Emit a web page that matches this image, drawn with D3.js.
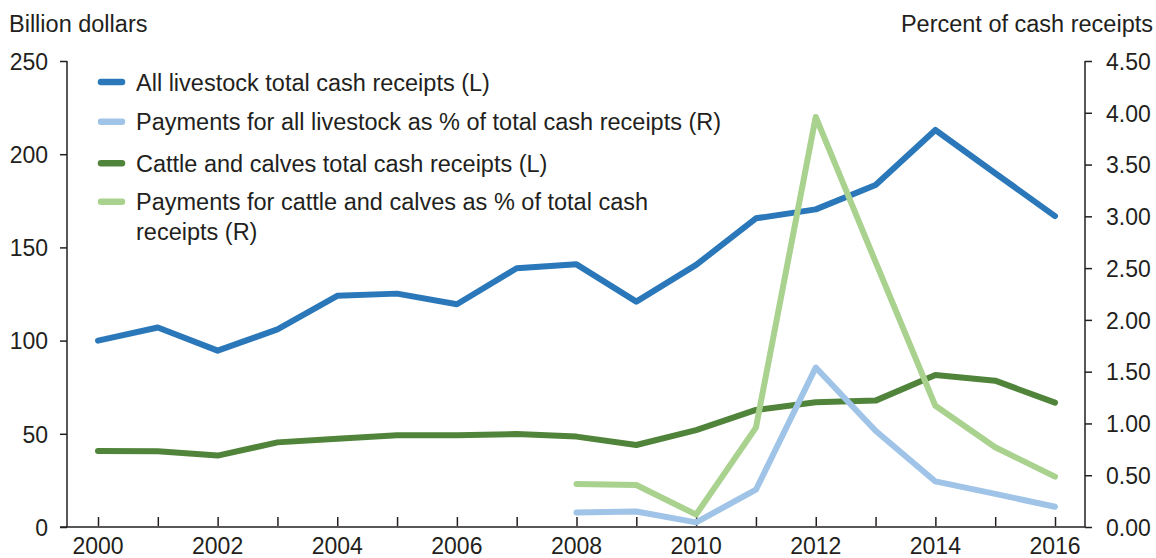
<!DOCTYPE html>
<html>
<head>
<meta charset="utf-8">
<script src="https://cdn.jsdelivr.net/npm/d3@7"></script>
<style>
  body { margin: 0; background: #fff; }
  svg text { font-family: "Liberation Sans", Arial, sans-serif; fill: #231f20; }
</style>
</head>
<body>
<div id="chart"></div>
<script>
const years = [2000, 2001, 2002, 2003, 2004, 2005, 2006, 2007, 2008, 2009, 2010, 2011, 2012, 2013, 2014, 2015, 2016];

// Billion dollars (left axis)
const allLivestock = [100, 107, 94.6, 106, 124, 125.2, 119.5, 138.8, 140.9, 120.9, 140.6, 165.6, 170.4, 183.5, 213, 189.8, 166.8];
const cattleCalves = [40.8, 40.6, 38.3, 45.4, 47.4, 49.2, 49.2, 49.9, 48.5, 44, 52, 62.8, 66.9, 67.8, 81.5, 78.5, 66.7];

// Percent of cash receipts (right axis)
const allLivestockPay = [null, null, null, null, null, null, null, null, 0.14, 0.15, 0.045, 0.36, 1.54, 0.93, 0.44, 0.32, 0.196];
const cattlePay = [null, null, null, null, null, null, null, null, 0.415, 0.405, 0.12, 0.96, 3.96, 2.56, 1.17, 0.77, 0.486];

const leftTicks = [0, 50, 100, 150, 200, 250];
const rightTicks = [0, 0.5, 1, 1.5, 2, 2.5, 3, 3.5, 4, 4.5];
const yearLabels = [2000, 2002, 2004, 2006, 2008, 2010, 2012, 2014, 2016];

const series = [
  { name: "All livestock total cash receipts (L)", values: allLivestock, axis: "L", color: "#2a77b9" },
  { name: "Payments for all livestock as % of total cash receipts (R)", values: allLivestockPay, axis: "R", color: "#9fc4e7" },
  { name: "Cattle and calves total cash receipts (L)", values: cattleCalves, axis: "L", color: "#50843a" },
  { name: "Payments for cattle and calves as % of total cash|receipts (R)", values: cattlePay, axis: "R", color: "#a9d28f" }
];

const width = 1156, height = 558;
const svg = d3.select("#chart").append("svg")
  .attr("width", width)
  .attr("height", height);

const x = d3.scaleLinear().domain([2000, 2016]).range([98, 1055]);
const yL = d3.scaleLinear().domain([0, 250]).range([527, 61]);
const yR = d3.scaleLinear().domain([0, 4.5]).range([527, 61]);

const axisColor = "#231f20";
const tickFont = "23px";
const textFont = "23.5px";

// left axis
const leftAxis = svg.append("g").attr("transform", "translate(67,0)")
  .call(d3.axisLeft(yL).tickValues(leftTicks).tickSize(7).tickPadding(12).tickFormat(d3.format("d")));
// right axis
const rightAxis = svg.append("g").attr("transform", "translate(1085,0)")
  .call(d3.axisRight(yR).tickValues(rightTicks).tickSize(7).tickPadding(14).tickFormat(d3.format(".2f")));
[leftAxis, rightAxis].forEach(g => {
  g.select(".domain").attr("d", "M0,61V527").attr("stroke", axisColor).attr("stroke-width", 1.5);
  g.selectAll(".tick line").attr("stroke", axisColor).attr("stroke-width", 1.5);
  g.selectAll(".tick text").style("font-size", tickFont).attr("dy", "0.36em");
});

// bottom axis with inward ticks
const bottomAxis = svg.append("g").attr("transform", "translate(0,527)")
  .call(d3.axisBottom(x).tickValues(years).tickSize(-10).tickFormat(""));
bottomAxis.select(".domain").attr("d", "M60,0H1085").attr("stroke", axisColor).attr("stroke-width", 1.5);
bottomAxis.selectAll(".tick line").attr("stroke", axisColor).attr("stroke-width", 1.5).attr("y1", -1);

svg.append("g").selectAll("text")
  .data(yearLabels)
  .join("text")
  .attr("x", d => x(d))
  .attr("y", 554)
  .attr("text-anchor", "middle")
  .style("font-size", tickFont)
  .text(d => d);

// axis titles
svg.append("text").attr("x", 9).attr("y", 32).style("font-size", textFont).text("Billion dollars");
svg.append("text").attr("x", 1153).attr("y", 32).attr("text-anchor", "end").style("font-size", textFont).text("Percent of cash receipts");

// lines
const lineFor = s => d3.line()
  .defined(d => d[1] != null)
  .x(d => x(d[0]))
  .y(d => (s.axis === "L" ? yL : yR)(d[1]));

const drawOrder = [series[0], series[2], series[1], series[3]];
svg.append("g").selectAll("path")
  .data(drawOrder)
  .join("path")
  .attr("d", s => lineFor(s)(years.map((yr, i) => [yr, s.values[i]])))
  .attr("fill", "none")
  .attr("stroke", s => s.color)
  .attr("stroke-width", 6)
  .attr("stroke-linejoin", "round")
  .attr("stroke-linecap", "round");

// legend
const legendRows = [82, 121.7, 163.3, 201.7];
const legend = svg.append("g").selectAll("g")
  .data(series)
  .join("g")
  .attr("transform", (d, i) => `translate(0,${legendRows[i]})`);

legend.append("line")
  .attr("x1", 101).attr("x2", 122)
  .attr("stroke", d => d.color)
  .attr("stroke-width", 6.5)
  .attr("stroke-linecap", "round");

legend.append("text")
  .attr("x", 136)
  .attr("y", 8.5)
  .style("font-size", textFont)
  .selectAll("tspan")
  .data(d => d.name.split("|"))
  .join("tspan")
  .attr("x", 136)
  .attr("dy", (d, i) => i === 0 ? 0 : 30)
  .text(d => d);
</script>
</body>
</html>
